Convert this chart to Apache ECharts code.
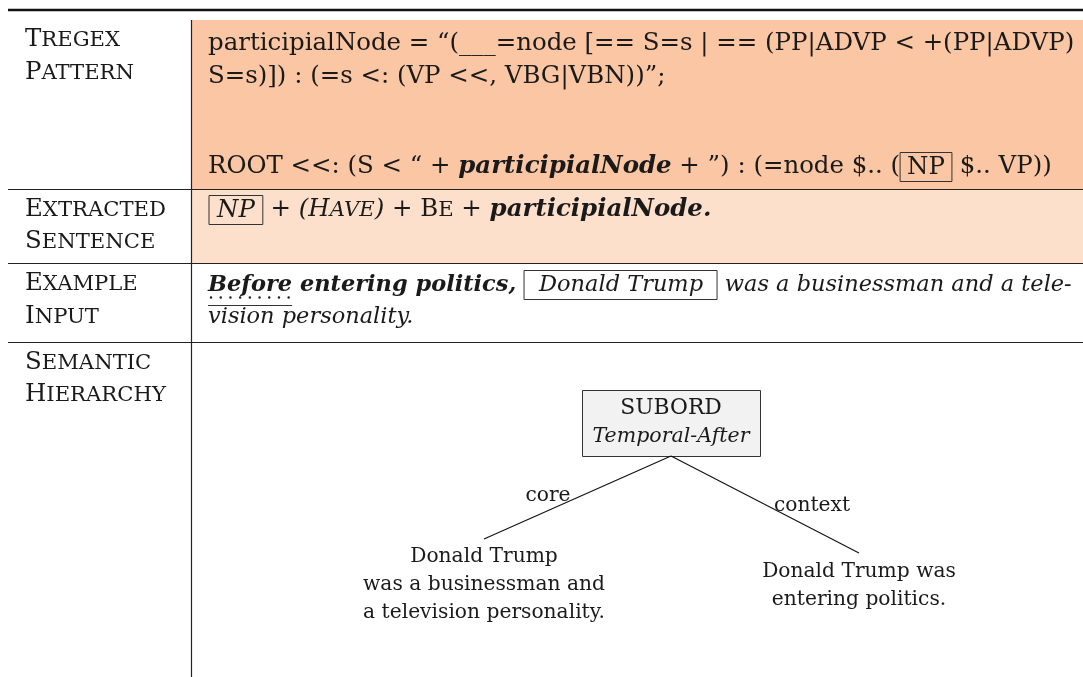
<!DOCTYPE html>
<html><head><meta charset="utf-8">
<script src="https://cdn.jsdelivr.net/npm/echarts@6/dist/echarts.min.js"></script>
<style>html,body{margin:0;padding:0;background:#fff}#c{width:1083px;height:677px}</style>
</head><body><div id="c"></div>
<script>
// ---- content ----
const rowLabels = [["Tregex","Pattern"],["Extracted","Sentence"],["Example","Input"],["Semantic","Hierarchy"]];
const patternLines = [
  "participialNode = “(___=node [== S=s | == (PP|ADVP < +(PP|ADVP)",
  "S=s)]) : (=s <: (VP <<, VBG|VBN))”;"
];
const rootLine = ["ROOT <<: (S < “ + ", "participialNode", " + ”) : (=node $.. (", "NP", " $.. VP))"];
const extracted = ["NP", " + (", "Have", ") + ", "Be", " + ", "participialNode."];
const exampleLine1 = ["Before", " entering politics,", "Donald Trump", "was a businessman and a tele-"];
const exampleLine2 = "vision personality.";
const treeRoot = ["SUBORD", "Temporal-After"];
const edgeLabels = ["core", "context"];
const leftChild = ["Donald Trump", "was a businessman and", "a television personality."];
const rightChild = ["Donald Trump was", "entering politics."];

// ---- style / layout ----
const FF = "'DejaVu Serif', 'Liberation Serif', serif";
const cv = document.createElement('canvas').getContext('2d');
function wid(text, size, style, weight){
  cv.font = (style || 'normal') + ' ' + (weight || 'normal') + ' ' + size + 'px ' + FF;
  return cv.measureText(text).width;
}
function fit(text, target, style, weight){ return 100 * target / wid(text, 100, style, weight); }

const FS = fit(patternLines[0], 867);
const CAP = FS;
const SC = (141 - wid('E', CAP)) / wid('XTRACTED', 100) * 100;
const BI1 = FS;
const I3 = Math.min(fit(exampleLine1[3], 347, 'italic'), FS);
const BI3 = I3;
// tree sizes
const TR = fit(leftChild[1], 242);
const TRI = fit(treeRoot[1], 157, 'italic');

const W = 1083, H = 677;
const colX = 191.5, textX = 208, labelX = 25;
const rowY = [20, 189, 263, 342];
const C_ROW1 = '#FBC6A3', C_ROW2 = '#FDE0CC', INK = '#1a1a1a';

function smallCaps(w){
  const u = w.toUpperCase();
  return '{cap|' + u[0] + '}{sc|' + u.slice(1) + '}';
}
const rich = {
  n:   {fontFamily: FF, fontSize: FS, fill: INK},
  i:   {fontFamily: FF, fontSize: FS, fontStyle: 'italic', fill: INK},
  bi:  {fontFamily: FF, fontSize: FS, fontStyle: 'italic', fontWeight: 'bold', fill: INK},
  bi1: {fontFamily: FF, fontSize: BI1, fontStyle: 'italic', fontWeight: 'bold', fill: INK},
  bi3: {fontFamily: FF, fontSize: BI3, fontStyle: 'italic', fontWeight: 'bold', fill: INK},
  i3:  {fontFamily: FF, fontSize: I3, fontStyle: 'italic', fill: INK},
  box: {fontFamily: FF, fontSize: FS, fill: INK, borderColor: '#333', borderWidth: 1, padding: [3, 7, 2, 7]},
  ibox:{fontFamily: FF, fontSize: FS, fontStyle: 'italic', fill: INK, borderColor: '#333', borderWidth: 1, padding: [3, 8, 2, 8]},
  ibox3:{fontFamily: FF, fontSize: I3, fontStyle: 'italic', fill: INK, borderColor: '#333', borderWidth: 1, padding: [4, 14, 3, 15]},
  cap: {fontFamily: FF, fontSize: CAP, fill: INK},
  sc:  {fontFamily: FF, fontSize: SC, fill: INK},
  ic:  {fontFamily: FF, fontSize: FS, fontStyle: 'italic', fill: INK},
  isc: {fontFamily: FF, fontSize: SC, fontStyle: 'italic', fill: INK},
  t:   {fontFamily: FF, fontSize: TR, fill: INK},
  tb:  {fontFamily: FF, fontSize: TR * 1.08, fill: INK},
  ti:  {fontFamily: FF, fontSize: TRI, fontStyle: 'italic', fill: INK}
};
function T(x, y, text, extra){
  return {type: 'text', x: x, y: y, style: Object.assign({
    text: text, rich: rich, fontFamily: FF, fontSize: FS, fill: INK,
    verticalAlign: 'middle', align: 'left'}, extra || {})};
}
function L(x1, y1, x2, y2, w, c, dash){
  return {type: 'line', shape: {x1, y1, x2, y2}, style: {stroke: c || INK, lineWidth: w || 1, lineDash: dash || null, lineCap: dash ? 'round' : 'butt'}};
}
function N(s){ return '{n|' + s + '}'; }

const els = [];
els.push({type: 'rect', shape: {x: 0, y: 0, width: W, height: H}, style: {fill: '#fff'}});
els.push({type: 'rect', shape: {x: colX, y: rowY[0], width: W - colX, height: rowY[1] - rowY[0]}, style: {fill: C_ROW1}});
els.push({type: 'rect', shape: {x: colX, y: rowY[1], width: W - colX, height: rowY[2] - rowY[1]}, style: {fill: C_ROW2}});
// rules
els.push(L(8, 10, W, 10, 2.5, '#111'));
[rowY[1], rowY[2], rowY[3]].forEach(y => els.push(L(8, y + 0.5, W, y + 0.5, 1.2, '#222')));
els.push(L(colX, rowY[0], colX, H, 1.2, '#222'));

// labels
const labelY = [[40, 73], [210, 242], [284, 317], [363, 395]];
rowLabels.forEach((pair, r) => pair.forEach((w, k) => {
  els.push(T(labelX, labelY[r][k], smallCaps(w)));
}));

// row 1
els.push(T(textX, 44, N(patternLines[0])));
els.push(T(textX, 77, N(patternLines[1])));
els.push(T(textX, 167, N(rootLine[0]) + '{bi1|' + rootLine[1] + '}' + N(rootLine[2]) + '{box|' + rootLine[3] + '}' + N(rootLine[4])));

// row 2
els.push(T(textX + 1, 210,
  '{ibox|' + extracted[0] + '}' + '{i|' + extracted[1] + '}' +
  '{ic|' + extracted[2][0].toUpperCase() + '}{isc|' + extracted[2].slice(1).toUpperCase() + '}' +
  '{i|' + extracted[3] + '}' +
  '{cap|' + extracted[4][0].toUpperCase() + '}{sc|' + extracted[4].slice(1).toUpperCase() + '}' +
  '{i|' + extracted[5] + '}{bi|' + extracted[6] + '}'));

// row 3
els.push(T(textX, 285,
  '{bi3|' + exampleLine1[0] + '}{bi3|' + exampleLine1[1] + '}{n| }{ibox3|' + exampleLine1[2] + '}{n| }{i3|' + exampleLine1[3] + '}'));
els.push(T(textX, 317, '{i3|' + exampleLine2 + '}'));
// underline of "Before"
const bw = wid(exampleLine1[0], BI3, 'italic', 'bold');
els.push(L(textX, 305.5, textX + bw, 305.5, 1, '#333'));
els.push(L(textX + 3, 297.5, textX + bw, 297.5, 2.4, '#222', [0.1, 9.6]));

// tree
const rootC = {x: 671, top: 390, bottom: 456, left: 582, right: 760};
els.push({type: 'rect', shape: {x: rootC.left + 0.5, y: rootC.top + 0.5, width: rootC.right - rootC.left, height: rootC.bottom - rootC.top},
  style: {fill: '#F2F2F2', stroke: '#333', lineWidth: 1}});
els.push(T(rootC.x, 408, '{tb|' + treeRoot[0] + '}', {align: 'center'}));
els.push(T(rootC.x, 437, '{ti|' + treeRoot[1] + '}', {align: 'center'}));
const lc = {x: 484, y: 539}, rc = {x: 859, y: 553};
els.push(L(rootC.x, rootC.bottom, lc.x, lc.y, 1.1, '#111'));
els.push(L(rootC.x, rootC.bottom, rc.x, rc.y, 1.1, '#111'));
els.push(T(548, 496, '{t|' + edgeLabels[0] + '}', {align: 'center'}));
els.push(T(812, 506, '{t|' + edgeLabels[1] + '}', {align: 'center'}));
leftChild.forEach((s, k) => els.push(T(lc.x, 557 + 28 * k, '{t|' + s + '}', {align: 'center'})));
rightChild.forEach((s, k) => els.push(T(rc.x, 572 + 28 * k, '{t|' + s + '}', {align: 'center'})));

const chart = echarts.init(document.getElementById('c'), null, {renderer: 'canvas'});
chart.setOption({animation: false, backgroundColor: '#fff', graphic: {elements: els}});
</script></body></html>
